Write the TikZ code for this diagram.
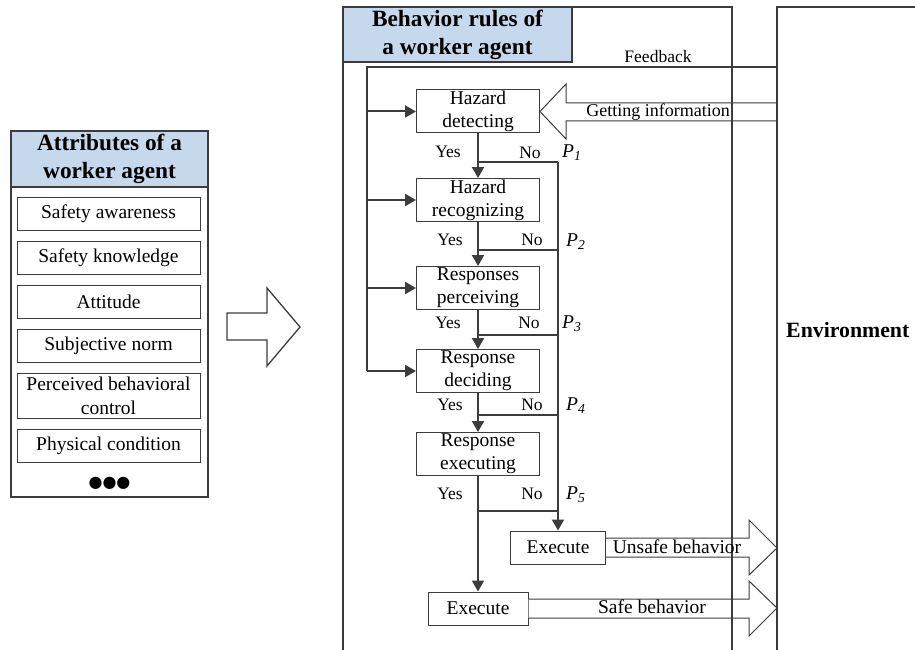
\documentclass[tikz,border=0pt]{standalone}
\usepackage{fontspec}
\setmainfont{Liberation Serif}
\newfontfamily\dejavu{DejaVu Sans}
\usetikzlibrary{arrows.meta}
\definecolor{ln}{HTML}{3C3C3C}
\definecolor{hdr}{HTML}{C6D9EC}
\begin{document}
\begin{tikzpicture}[x=1pt,y=-1pt,
  thickline/.style={draw=ln, line width=2.3pt},
  conn/.style={draw=ln, line width=2pt},
  arr/.style={conn, -{Triangle[length=11pt,width=12pt]}},
  flowbox/.style={draw=ln, line width=1pt, minimum width=123pt, minimum height=43pt, inner sep=0pt, align=center, font=\fontsize{19.5}{23}\selectfont},
  exbox/.style={draw=ln, line width=1pt, minimum height=33pt, inner sep=0pt, align=center, font=\fontsize{19.5}{23}\selectfont},
  attrbox/.style={draw=ln, line width=1pt, minimum width=183pt, minimum height=33pt, inner sep=0pt, align=center, font=\fontsize{19.5}{24}\selectfont},
  lbl/.style={font=\fontsize{17.5}{20}\selectfont, inner sep=0pt},
  plbl/.style={font=\fontsize{19.5}{20}\selectfont\itshape, inner sep=0pt, anchor=west},
  hollow/.style={draw=ln, line width=1pt, fill=white},
  hdrtext/.style={font=\fontsize{23.3}{28}\selectfont\bfseries, align=center, inner sep=0pt}
]
\useasboundingbox (0,0) rectangle (915,650);
\clip (0,0) rectangle (915,650);
\fill[white] (0,0) rectangle (915,650);

% ---------- left box: attributes ----------
\draw[ln, line width=1.5pt] (11,131) rectangle (208,497);
\draw[ln, line width=1.5pt, fill=hdr] (11,131) rectangle (208,187);
\node[hdrtext] (attrhead) at (109.5,159) {Attributes of a\\worker agent};
\node[attrbox] (a1) at (108.5,213.5) {Safety awareness};
\node[attrbox] (a2) at (108.5,257.5) {Safety knowledge};
\node[attrbox] (a3) at (108.5,301.5) {Attitude};
\node[attrbox] (a4) at (108.5,346) {Subjective norm};
\node[attrbox, minimum height=45pt] (a5) at (108.5,395.5) {Perceived behavioral\\control};
\node[attrbox] (a6) at (108.5,445.5) {Physical condition};
\node[inner sep=0pt, font=\fontsize{16}{16}\dejavu] (dots) at (109.5,483) {●●●};

% ---------- big hollow arrow ----------
\draw[hollow, line width=1.3pt] (227,313) -- (267,313) -- (267,288) -- (300,327) -- (267,366) -- (267,340) -- (227,340) -- cycle;

% ---------- flow boxes ----------
\node[flowbox] (hd) at (478,111.5) {Hazard\\detecting};
\node[flowbox] (hr) at (478,200) {Hazard\\recognizing};
\node[flowbox] (rp) at (478,288) {Responses\\perceiving};
\node[flowbox] (rd) at (478,371) {Response\\deciding};
\node[flowbox] (re) at (478,454) {Response\\executing};
\node[exbox, minimum width=95pt] (eu) at (558,547.5) {Execute};
\node[exbox, minimum width=100pt] (es) at (478,608.5) {Execute};

% ---------- hollow arrows ----------
\draw[hollow] (777,103) -- (566,103) -- (566,84) -- (hd.east) -- (566,139) -- (566,121) -- (777,121);
\draw[hollow] (eu.east |- 0,538) -- (749,538) -- (749,520) -- (777,548) -- (749,575) -- (749,557) -- (eu.east |- 0,557);
\draw[hollow] (es.east |- 0,599) -- (749,599) -- (749,581) -- (777,608) -- (749,636) -- (749,618) -- (es.east |- 0,618);

% ---------- frames ----------
\draw[thickline] (343,660) -- (343,7) -- (732,7) -- (732,660);
\draw[ln, line width=1.3pt, fill=hdr] (343,7) rectangle (572,62);
\draw[thickline] (343,62) -- (343,7) -- (572,7);
\node[hdrtext] (behead) at (457.5,34.5) {Behavior rules of\\a worker agent};
\draw[thickline] (777,660) -- (777,7) -- (925,7);
\node[anchor=base west, inner sep=0pt, font=\fontsize{21.8}{26}\selectfont\bfseries] (env) at (786,337) {Environment};

% ---------- feedback ----------
\coordinate (fbR) at (777,67);
\coordinate (fbL) at (367,67);
\draw[conn] (fbR) -- (fbL) -- (fbL |- rd.west);
\draw[arr] (fbL |- hd.west) -- (hd.west);
\draw[arr] (fbL |- hr.west) -- (hr.west);
\draw[arr] (fbL |- rp.west) -- (rp.west);
\draw[arr] (fbL |- rd.west) -- (rd.west);
\node[lbl] (fblbl) at (658,57) {Feedback};
\node[lbl, font=\fontsize{18}{20}\selectfont] (gilbl) at (658,112) {Getting information};

% ---------- yes / no paths ----------
\coordinate (j1) at (478,162);
\coordinate (j2) at (478,250);
\coordinate (j3) at (478,335);
\coordinate (j4) at (478,415);
\coordinate (j5) at (478,511);
\coordinate (p1) at (558,162);
\coordinate (p2) at (558,250);
\coordinate (p3) at (558,335);
\coordinate (p4) at (558,415);
\coordinate (p5) at (558,511);
\draw[arr] (hd.south) -- (hr.north);
\draw[arr] (hr.south) -- (rp.north);
\draw[arr] (rp.south) -- (rd.north);
\draw[arr] (rd.south) -- (re.north);
\draw[arr] (re.south) -- (es.north);
\draw[conn] (j1) -- (p1);
\draw[conn] (j2) -- (p2);
\draw[conn] (j3) -- (p3);
\draw[conn] (j4) -- (p4);
\draw[conn] (j5) -- (p5);
\draw[arr] (p1) -- (eu.north);

\node[lbl] (y1) at (448,152) {Yes};
\node[lbl] (n1) at (530,153) {No};
\node[plbl] (pl1) at (562,153) {P\textsubscript{1}};
\node[lbl] (y2) at (450,240) {Yes};
\node[lbl] (n2) at (532,240) {No};
\node[plbl] (pl2) at (566,242) {P\textsubscript{2}};
\node[lbl] (y3) at (448,323) {Yes};
\node[lbl] (n3) at (529,323) {No};
\node[plbl] (pl3) at (562,324) {P\textsubscript{3}};
\node[lbl] (y4) at (450,405) {Yes};
\node[lbl] (n4) at (532,405) {No};
\node[plbl] (pl4) at (566,406) {P\textsubscript{4}};
\node[lbl] (y5) at (450,494) {Yes};
\node[lbl] (n5) at (532,494) {No};
\node[plbl] (pl5) at (566,495) {P\textsubscript{5}};

% ---------- behavior labels ----------
\node[inner sep=0pt, font=\fontsize{19.5}{22}\selectfont] (ublbl) at (677,547) {Unsafe behavior};
\node[inner sep=0pt, font=\fontsize{19.5}{22}\selectfont] (sblbl) at (652,607) {Safe behavior};
\end{tikzpicture}
\end{document}
